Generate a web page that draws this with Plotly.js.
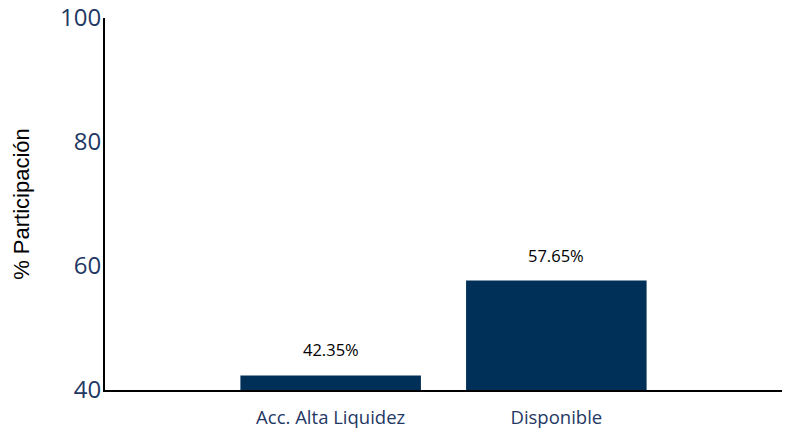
<!DOCTYPE html>
<html>
<head>
<script src="https://cdn.plot.ly/plotly-3.0.1.min.js"></script>
<style>body{margin:0;background:#fff}</style>
</head>
<body>
<div id="chart" style="width:792px;height:436px"></div>
<script>
var categories = ['Acc. Alta Liquidez', 'Disponible'];
var values = [42.35, 57.65];
var labels = values.map(function (v) { return v.toFixed(2) + '%'; });

var data = [{
  type: 'bar',
  x: categories,
  y: values,
  width: 0.8,
  marker: { color: '#003057' },
  hoverinfo: 'none'
}];

// value labels sit a little higher above the bars than Plotly's 'outside' text
var annotations = categories.map(function (c, i) {
  return {
    x: c, y: values[i], text: labels[i], showarrow: false,
    yanchor: 'bottom', yshift: 12,
    font: { family: 'Open Sans, sans-serif', size: 16.5, color: '#000' }
  };
});

var layout = {
  margin: { l: 105, r: 10, t: 18, b: 46 },
  paper_bgcolor: '#fff',
  plot_bgcolor: '#fff',
  showlegend: false,
  annotations: annotations,
  xaxis: {
    range: [-1, 2],
    showline: true,
    linecolor: '#000',
    linewidth: 2,
    ticks: '',
    ticklabelstandoff: 10,
    tickfont: { family: 'Open Sans, sans-serif', size: 18.5, color: '#1f3864' }
  },
  yaxis: {
    range: [40, 100],
    tickvals: [40, 60, 80, 100],
    showgrid: false,
    zeroline: false,
    showline: true,
    linecolor: '#000',
    linewidth: 2,
    ticks: '',
    ticklabelstandoff: -3,
    tickfont: { family: 'Open Sans, sans-serif', size: 24, color: '#1f3864' },
    title: { text: '% Participación', standoff: 24, font: { family: 'Liberation Sans, Arial, sans-serif', size: 22, color: '#000' } }
  }
};

Plotly.newPlot('chart', data, layout, { displayModeBar: false });
</script>
</body>
</html>
